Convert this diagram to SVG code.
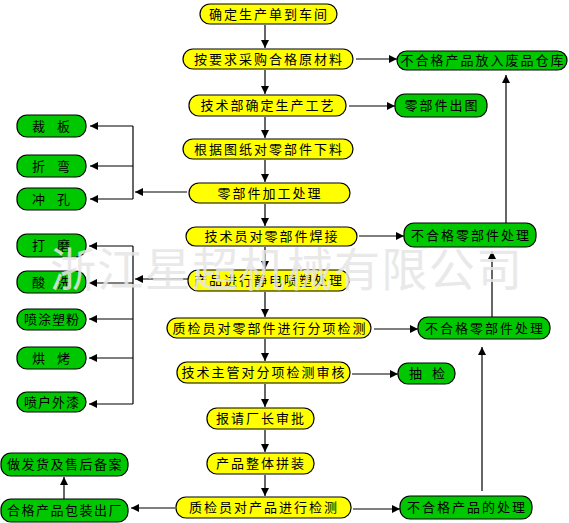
<svg xmlns="http://www.w3.org/2000/svg" width="569" height="523" viewBox="0 0 569 523">
<style>
.y rect{fill:#ffff00;stroke:#000;stroke-width:1.2}
.g rect{fill:#00c800;stroke:#000;stroke-width:1.2}
text{font-family:"Noto Sans CJK SC","Noto Sans",sans-serif;font-size:13px;fill:#000;text-anchor:middle;letter-spacing:2px}
.c line,.c path{stroke:#000;stroke-width:1.2;fill:none}
.a{marker-end:url(#ah)}
.wm{font-size:46px;fill:#e6e6e6;opacity:0.85;text-anchor:start;letter-spacing:0}
</style>
<defs>
<marker id="ah" markerWidth="8" markerHeight="8" refX="8" refY="4" orient="auto" markerUnits="userSpaceOnUse">
<path d="M0,0 L8,4 L0,8 Z" fill="#000"/>
</marker>
</defs>
<rect width="569" height="523" fill="#fff"/>
<g class="c">
<line class="a" x1="265" y1="25" x2="265" y2="48"/>
<line class="a" x1="265" y1="70" x2="265" y2="94"/>
<line class="a" x1="265" y1="117" x2="265" y2="138"/>
<line class="a" x1="265" y1="160" x2="265" y2="182"/>
<line class="a" x1="265" y1="204" x2="265" y2="226"/>
<line class="a" x1="265" y1="247" x2="265" y2="269"/>
<line class="a" x1="265" y1="292" x2="265" y2="317"/>
<line class="a" x1="265" y1="339" x2="265" y2="361"/>
<line class="a" x1="265" y1="384" x2="265" y2="407"/>
<line class="a" x1="265" y1="430" x2="265" y2="452"/>
<line class="a" x1="265" y1="475" x2="265" y2="496"/>
<line class="a" x1="356" y1="59" x2="397" y2="59"/>
<line class="a" x1="349" y1="106" x2="395" y2="106"/>
<line class="a" x1="359" y1="236" x2="404" y2="236"/>
<line class="a" x1="374" y1="329" x2="418" y2="329"/>
<line class="a" x1="352" y1="374" x2="398" y2="374"/>
<line class="a" x1="353" y1="509" x2="400" y2="509"/>
<line class="a" x1="506" y1="223" x2="506" y2="75"/>
<line class="a" x1="492" y1="317" x2="492" y2="251"/>
<line class="a" x1="482" y1="491" x2="482" y2="347"/>
<line class="a" x1="187" y1="192" x2="135" y2="192"/>
<line x1="133" y1="126" x2="133" y2="199"/>
<line class="a" x1="133" y1="126" x2="90" y2="126"/>
<line class="a" x1="133" y1="166" x2="90" y2="166"/>
<line class="a" x1="133" y1="199" x2="90" y2="199"/>
<line class="a" x1="188" y1="279" x2="135" y2="279"/>
<line x1="133" y1="246" x2="133" y2="404"/>
<line class="a" x1="133" y1="246" x2="89" y2="246"/>
<line class="a" x1="133" y1="283" x2="89" y2="283"/>
<line class="a" x1="133" y1="319" x2="89" y2="319"/>
<line class="a" x1="133" y1="358" x2="89" y2="358"/>
<line class="a" x1="133" y1="404" x2="89" y2="404"/>
<line class="a" x1="175" y1="508" x2="131" y2="508"/>
<line class="a" x1="64" y1="499" x2="64" y2="477"/>
</g>
<g id="n1" class="y"><rect x="200" y="4" width="137" height="20" rx="10"/><text x="269" y="19">确定生产单到车间</text></g>
<g id="n2" class="y"><rect x="183" y="49" width="170" height="20" rx="10"/><text x="269" y="64">按要求采购合格原材料</text></g>
<g id="n3" class="y"><rect x="189" y="95" width="157" height="21" rx="10"/><text x="268" y="110">技术部确定生产工艺</text></g>
<g id="n4" class="y"><rect x="183" y="139" width="170" height="20" rx="10"/><text x="269" y="154">根据图纸对零部件下料</text></g>
<g id="n5" class="y"><rect x="189" y="183" width="161" height="20" rx="10"/><text x="270" y="198">零部件加工处理</text></g>
<g id="n6" class="y"><rect x="186" y="227" width="171" height="19" rx="9.5"/><text x="272" y="241">技术员对零部件焊接</text></g>
<g id="n7" class="y"><rect x="188" y="270" width="161" height="21" rx="10"/><text x="269" y="285">产品进行静电喷塑处理</text></g>
<g id="n8" class="y"><rect x="167" y="318" width="204" height="20" rx="10"/><text x="270" y="333">质检员对零部件进行分项检测</text></g>
<g id="n9" class="y"><rect x="177" y="362" width="173" height="21" rx="10"/><text x="264" y="377">技术主管对分项检测审核</text></g>
<g id="n10" class="y"><rect x="207" y="408" width="107" height="21" rx="10"/><text x="261" y="423">报请厂长审批</text></g>
<g id="n11" class="y"><rect x="207" y="453" width="107" height="21" rx="10"/><text x="261" y="468">产品整体拼装</text></g>
<g id="n12" class="y"><rect x="176" y="497" width="175" height="21" rx="10"/><text x="264" y="512">质检员对产品进行检测</text></g>
<g id="r1" class="g"><rect x="397" y="51" width="170" height="19" rx="9.5"/><text x="483" y="65">不合格产品放入废品仓库</text></g>
<g id="r2" class="g"><rect x="395" y="94" width="92" height="23" rx="10"/><text x="442" y="110">零部件出图</text></g>
<g id="r3" class="g"><rect x="404" y="223" width="132" height="24" rx="10"/><text x="471" y="240">不合格零部件处理</text></g>
<g id="r4" class="g"><rect x="418" y="317" width="132" height="22" rx="10"/><text x="485" y="333">不合格零部件处理</text></g>
<g id="r5" class="g"><rect x="398" y="363" width="57" height="21" rx="10"/><text x="428" y="378" style="word-spacing:3px">抽 检</text></g>
<g id="r6" class="g"><rect x="400" y="496" width="132" height="23" rx="10"/><text x="467" y="512">不合格产品的处理</text></g>
<g id="l1" class="g"><rect x="17" y="115" width="69" height="22" rx="10"/><text x="52" y="131" style="word-spacing:5px">裁 板</text></g>
<g id="l2" class="g"><rect x="17" y="155" width="69" height="22" rx="10"/><text x="52" y="171" style="word-spacing:5px">折 弯</text></g>
<g id="l3" class="g"><rect x="17" y="188" width="69" height="22" rx="10"/><text x="52" y="204" style="word-spacing:5px">冲 孔</text></g>
<g id="l4" class="g"><rect x="17" y="234" width="69" height="23" rx="10"/><text x="52" y="250" style="word-spacing:5px">打 磨</text></g>
<g id="l5" class="g"><rect x="17" y="271" width="69" height="22" rx="10"/><text x="52" y="287" style="word-spacing:5px">酸 洗</text></g>
<g id="l6" class="g"><rect x="17" y="309" width="69" height="21" rx="10"/><text x="52" y="324" style="letter-spacing:1px">喷涂塑粉</text></g>
<g id="l7" class="g"><rect x="17" y="347" width="69" height="22" rx="10"/><text x="52" y="363" style="word-spacing:5px">烘 烤</text></g>
<g id="l8" class="g"><rect x="17" y="392" width="69" height="20" rx="10"/><text x="52" y="407" style="letter-spacing:1px">喷户外漆</text></g>
<g id="b1" class="g"><rect x="1" y="453" width="127" height="23" rx="10"/><text x="65" y="469" style="letter-spacing:1.5px">做发货及售后备案</text></g>
<g id="b2" class="g"><rect x="1" y="499" width="127" height="23" rx="10"/><text x="65" y="515" style="letter-spacing:1.5px">合格产品包装出厂</text></g>
<text class="wm" x="50" y="286" textLength="472">浙江星超机械有限公司</text>
</svg>
